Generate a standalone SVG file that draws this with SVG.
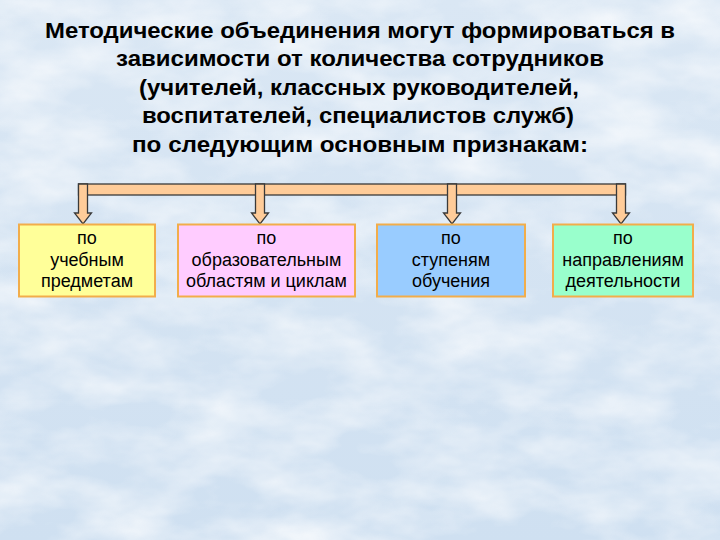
<svg xmlns="http://www.w3.org/2000/svg" width="720" height="540" viewBox="0 0 720 540">
  <defs>
    <filter id="tex" x="0" y="0" width="100%" height="100%" filterUnits="userSpaceOnUse">
      <feTurbulence type="fractalNoise" baseFrequency="0.012 0.025" numOctaves="4" seed="7"/>
      <feColorMatrix type="matrix" values="0 0 0 0 1  0 0 0 0 1  0 0 0 0 1  1.6 0 0 0 -0.55"/>
    </filter>
    <linearGradient id="bg" x1="0" y1="0" x2="0" y2="1">
      <stop offset="0" stop-color="#dae7f4"/>
      <stop offset="1" stop-color="#cfe0f1"/>
    </linearGradient>
  </defs>
  <style>
    .title { font-family: "Liberation Sans", Arial, sans-serif; font-weight: bold; font-size: 21.5px; fill: #000; text-anchor: middle; }
    .lbl { font-family: "Liberation Sans", Arial, sans-serif; font-size: 18px; fill: #000; text-anchor: middle; }
    .box { stroke: #f2ad4a; stroke-width: 2; }
    .arr { fill: #ffcc99; stroke: #3a3a3a; stroke-width: 1.3; stroke-linejoin: miter; }
  </style>
  <rect x="0" y="0" width="720" height="540" fill="url(#bg)"/>
  <rect x="0" y="0" width="720" height="540" filter="url(#tex)" opacity="0.8"/>

  <g id="title">
    <text class="title" x="360" y="38" textLength="630" lengthAdjust="spacingAndGlyphs">Методические объединения могут формироваться в</text>
    <text class="title" x="360" y="66" textLength="488" lengthAdjust="spacingAndGlyphs">зависимости от количества сотрудников</text>
    <text class="title" x="359" y="95" textLength="440" lengthAdjust="spacingAndGlyphs">(учителей, классных руководителей,</text>
    <text class="title" x="358" y="123" textLength="432" lengthAdjust="spacingAndGlyphs">воспитателей, специалистов служб)</text>
    <text class="title" x="360" y="152" textLength="456" lengthAdjust="spacingAndGlyphs">по следующим основным признакам:</text>
  </g>

  <g id="connectors">
    <rect class="arr" x="78.5" y="184" width="547" height="11"/>
    <polygon class="arr" points="78.5,184 87.5,184 87.5,213 91.5,213 83,224 74.5,213 78.5,213"/>
    <polygon class="arr" points="255.5,184 264.5,184 264.5,213 268.5,213 260,224 251.5,213 255.5,213"/>
    <polygon class="arr" points="447.5,184 456.5,184 456.5,213 460.5,213 452,224 443.5,213 447.5,213"/>
    <polygon class="arr" points="616.5,184 625.5,184 625.5,213 629.5,213 621,224 612.5,213 616.5,213"/>
  </g>

  <g id="node1">
    <rect class="box" x="19" y="224.5" width="136" height="72" fill="#ffff99"/>
    <text class="lbl" x="87" y="244">по</text>
    <text class="lbl" x="87" y="265.5">учебным</text>
    <text class="lbl" x="87" y="287">предметам</text>
  </g>
  <g id="node2">
    <rect class="box" x="178" y="224.5" width="177" height="72" fill="#ffccff"/>
    <text class="lbl" x="266.5" y="244">по</text>
    <text class="lbl" x="266.5" y="265.5">образовательным</text>
    <text class="lbl" x="266.5" y="287">областям и циклам</text>
  </g>
  <g id="node3">
    <rect class="box" x="377" y="224.5" width="148" height="72" fill="#99ccff"/>
    <text class="lbl" x="451" y="244">по</text>
    <text class="lbl" x="451" y="265.5">ступеням</text>
    <text class="lbl" x="451" y="287">обучения</text>
  </g>
  <g id="node4">
    <rect class="box" x="553" y="224.5" width="140" height="72" fill="#99ffcc"/>
    <text class="lbl" x="623" y="244">по</text>
    <text class="lbl" x="623" y="265.5">направлениям</text>
    <text class="lbl" x="623" y="287">деятельности</text>
  </g>
</svg>
